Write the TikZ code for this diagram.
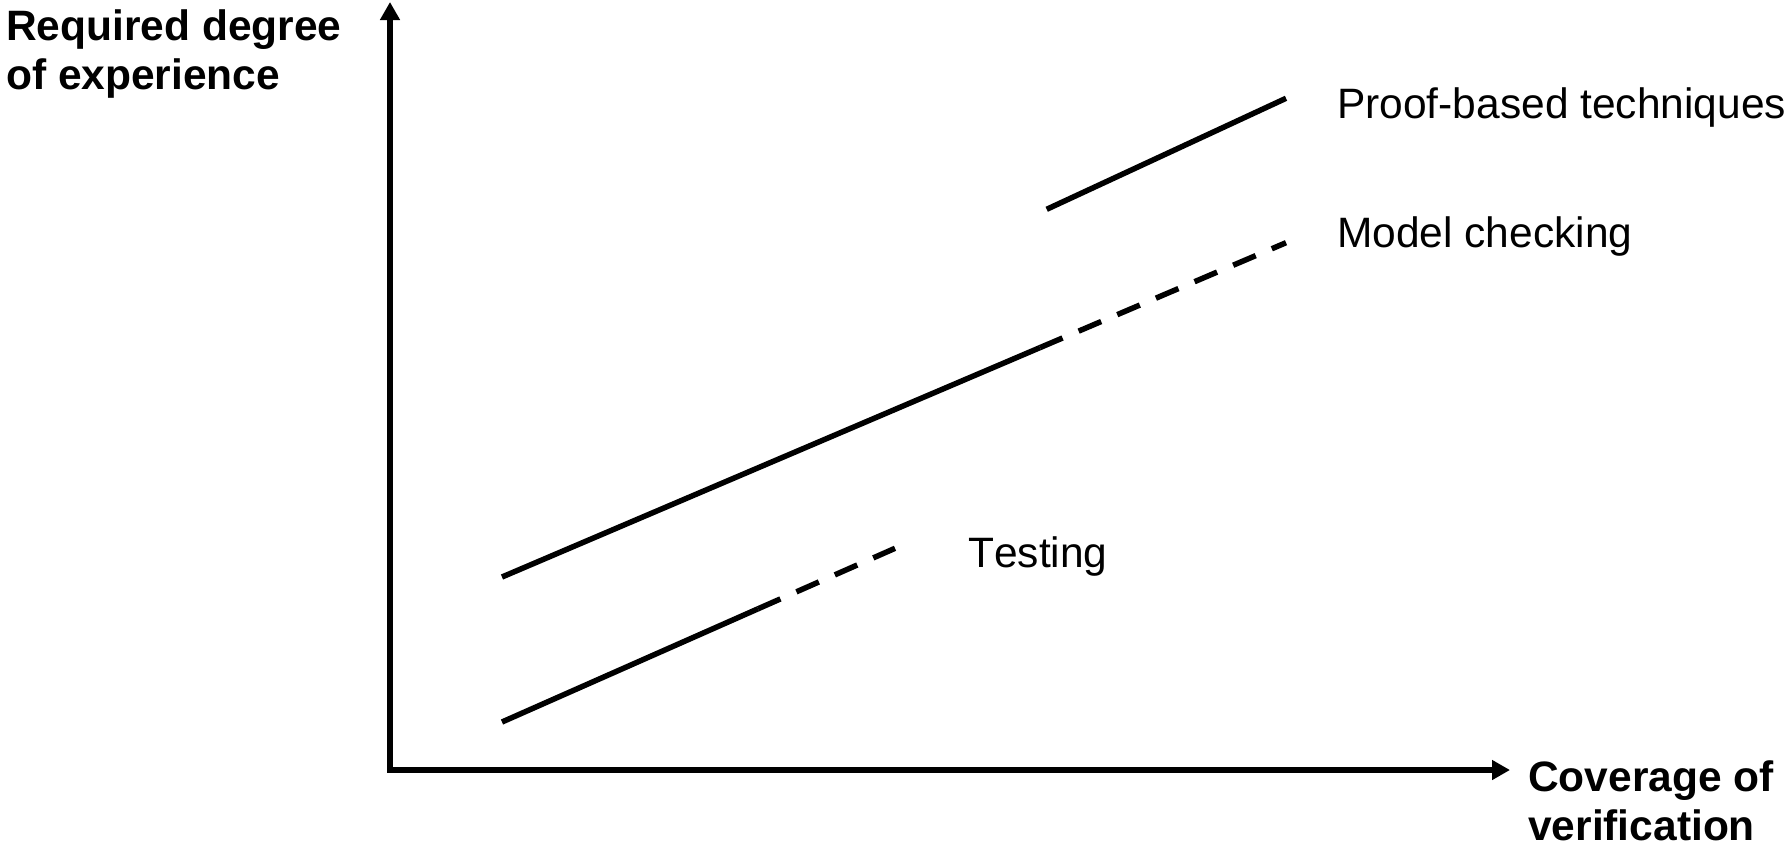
\documentclass[tikz,border=0pt]{standalone}
\usepackage{fontspec}
\setmainfont[Kerning=Off]{Liberation Sans}
\usetikzlibrary{arrows.meta}
\begin{document}
\begin{tikzpicture}[x=1pt,y=-1pt,
  axisline/.style={line width=5.5pt, line join=miter,
    {Triangle[width=19pt,length=18pt]}-{Triangle[width=19pt,length=18pt]}},
  plotline/.style={line width=5.5pt},
  dashline/.style={line width=5.5pt, dash pattern=on 24.5pt off 17.5pt},
  boldlbl/.style={font=\fontsize{42.5}{50}\selectfont\bfseries, inner sep=0pt, anchor=base west},
  lbl/.style={font=\fontsize{42.5}{50}\selectfont, inner sep=0pt, anchor=base west}]
\useasboundingbox (0,0) rectangle (1787,847);
% axes
\coordinate (ytip) at (390,2);
\coordinate (xtip) at (1510,770);
\draw[axisline] (ytip) |- (xtip);
% model checking
\coordinate (m0) at (502,577);
\coordinate (m1) at (1040,347.6);
\coordinate (m2) at (1286,242.7);
\draw[plotline] (m0) -- (m1);
\draw[dashline] (m1) -- (m2);
% testing
\coordinate (t0) at (502,722);
\coordinate (t1) at (758,608.8);
\coordinate (t2) at (895,548.3);
\draw[plotline] (t0) -- (t1);
\draw[dashline] (t1) -- (t2);
% proof-based
\coordinate (p0) at (1046.7,209.3);
\coordinate (p1) at (1286,98.3);
\draw[plotline] (p0) -- (p1);
% labels
\node[boldlbl] (yl1) at (6,40) {Required degree};
\node[boldlbl] (yl2) at (6,89) {of experience};
\node[boldlbl] (xl1) at (1528,791) {Coverage of};
\node[boldlbl] (xl2) at (1528,840) {verification};
\node[lbl] (lp) at (1337,118) {Proof-based techniques};
\node[lbl] (lm) at (1337,247) {Model checking};
\node[lbl] (lt) at (968,567) {Testing};
\end{tikzpicture}
\end{document}
